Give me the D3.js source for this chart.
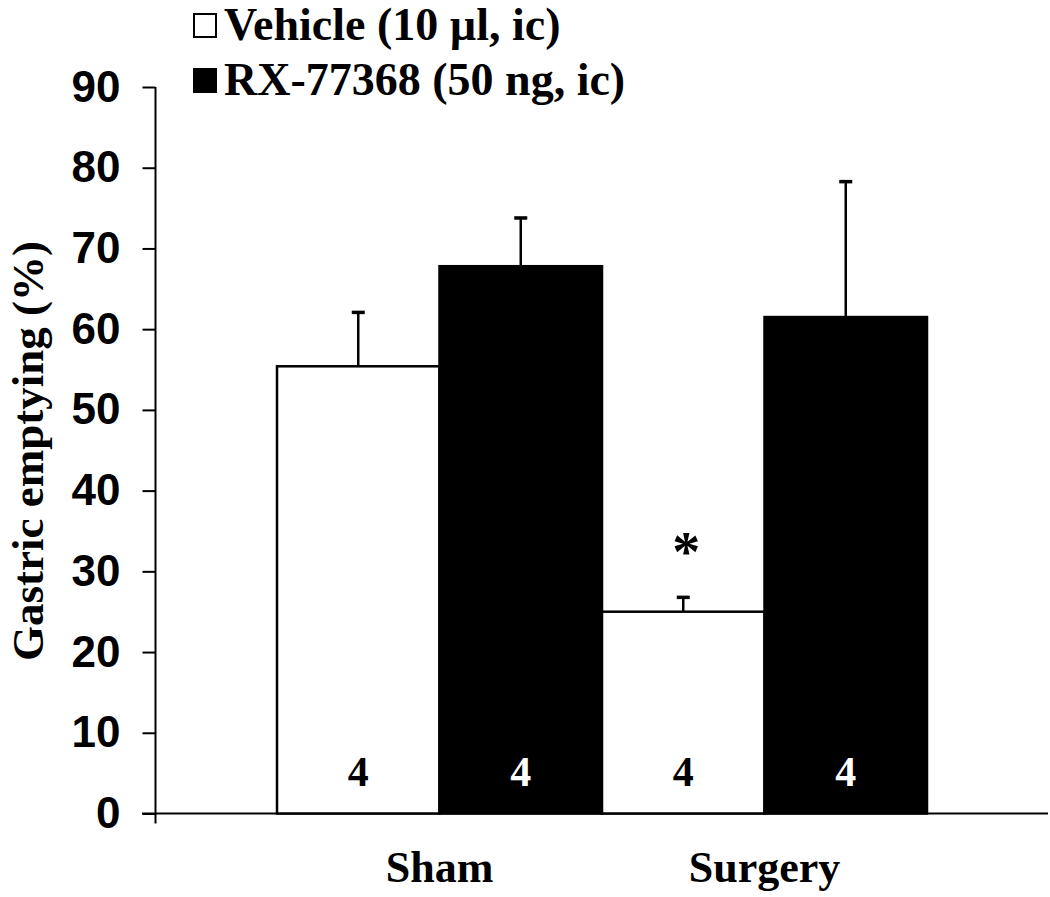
<!DOCTYPE html>
<html>
<head>
<meta charset="utf-8">
<script src="https://cdn.jsdelivr.net/npm/d3@7"></script>
<style>
  html, body { margin: 0; padding: 0; background: #fff; }
  svg { display: block; }
</style>
</head>
<body>
<svg id="chart" width="1050" height="897"></svg>
<script>
// ---- data ----
const groups = ["Sham", "Surgery"];
const seriesNames = ["Vehicle (10 µl, ic)", "RX-77368 (50 ng, ic)"];
const seriesKeys = ["vehicle", "rx"];
const vehicleMeans = [55.4, 25.0];
const vehicleErr = [6.8, 1.9];
const rxMeans = [67.8, 61.5];
const rxErr = [6.1, 16.9];
const nLabels = [["4", "4"], ["4", "4"]];
const significance = ["", "*"];
const yTicks = [0, 10, 20, 30, 40, 50, 60, 70, 80, 90];
const yTitle = "Gastric emptying (%)";

const data = groups.map((g, i) => ({
  group: g,
  values: [
    { key: "vehicle", mean: vehicleMeans[i], err: vehicleErr[i], n: nLabels[i][0], sig: significance[i] },
    { key: "rx", mean: rxMeans[i], err: rxErr[i], n: nLabels[i][1], sig: "" }
  ]
}));

const svg = d3.select("#chart");
const serif = "'Liberation Serif', 'Times New Roman', serif";
const sans = "'Liberation Sans', Arial, sans-serif";

const y = d3.scaleLinear().domain([0, 90]).range([813.5, 87]);
const x0 = d3.scaleBand().domain(groups).range([277, 927]).paddingInner(0).paddingOuter(0);
const x1 = d3.scaleBand().domain(seriesKeys).range([0, x0.bandwidth()]).padding(0);
const fill = d3.scaleOrdinal().domain(seriesKeys).range(["#ffffff", "#000000"]);

const axisX = 155.5;

// x baseline
svg.append("line")
  .attr("x1", 142).attr("x2", 1048)
  .attr("y1", y(0)).attr("y2", y(0))
  .attr("stroke", "#000").attr("stroke-width", 2);

// y axis
const yAxis = svg.append("g")
  .attr("transform", `translate(${axisX},0)`)
  .call(d3.axisLeft(y).tickValues(yTicks).tickSize(13).tickSizeOuter(0).tickPadding(22));
yAxis.select(".domain").remove();
yAxis.selectAll(".tick line").attr("stroke", "#000").attr("stroke-width", 2);
yAxis.selectAll(".tick text")
  .attr("font-family", sans).attr("font-weight", "bold").attr("font-size", 44).attr("fill", "#000");
svg.append("line")
  .attr("x1", axisX).attr("x2", axisX)
  .attr("y1", y(90)).attr("y2", y(0) + 10)
  .attr("stroke", "#000").attr("stroke-width", 2);

// bars
const gGroups = svg.selectAll("g.grp").data(data).join("g")
  .attr("class", "grp")
  .attr("transform", d => `translate(${x0(d.group)},0)`);

gGroups.selectAll("rect").data(d => d.values).join("rect")
  .attr("x", d => x1(d.key))
  .attr("y", d => y(d.mean))
  .attr("width", x1.bandwidth())
  .attr("height", d => y(0) - y(d.mean))
  .attr("fill", d => fill(d.key))
  .attr("stroke", "#000")
  .attr("stroke-width", 2.5);

// error bars (upper only)
gGroups.selectAll("line.err").data(d => d.values).join("line")
  .attr("class", "err")
  .attr("x1", d => x1(d.key) + x1.bandwidth() / 2)
  .attr("x2", d => x1(d.key) + x1.bandwidth() / 2)
  .attr("y1", d => y(d.mean))
  .attr("y2", d => y(d.mean + d.err))
  .attr("stroke", "#000").attr("stroke-width", 2.5);
gGroups.selectAll("line.cap").data(d => d.values).join("line")
  .attr("class", "cap")
  .attr("x1", d => x1(d.key) + x1.bandwidth() / 2 - 6.5)
  .attr("x2", d => x1(d.key) + x1.bandwidth() / 2 + 6.5)
  .attr("y1", d => y(d.mean + d.err) + 1)
  .attr("y2", d => y(d.mean + d.err) + 1)
  .attr("stroke", "#000").attr("stroke-width", 3.5);

// n labels
gGroups.selectAll("text.n").data(d => d.values).join("text")
  .attr("class", "n")
  .attr("x", d => x1(d.key) + x1.bandwidth() / 2)
  .attr("y", 786)
  .attr("text-anchor", "middle")
  .attr("font-family", serif).attr("font-weight", "bold").attr("font-size", 42)
  .attr("fill", d => d.key === "rx" ? "#fff" : "#000")
  .text(d => d.n);

// significance
gGroups.selectAll("text.sig").data(d => d.values.filter(v => v.sig)).join("text")
  .attr("class", "sig")
  .attr("x", d => x1(d.key) + x1.bandwidth() / 2 + 3)
  .attr("y", d => y(d.mean + d.err) - 25)
  .attr("text-anchor", "middle")
  .attr("font-family", serif).attr("font-weight", "bold").attr("font-size", 56)
  .attr("fill", "#000")
  .text(d => d.sig);

// group labels
svg.selectAll("text.grpLabel").data(groups).join("text")
  .attr("class", "grpLabel")
  .attr("x", d => x0(d) + x0.bandwidth() / 2)
  .attr("y", 882)
  .attr("text-anchor", "middle")
  .attr("font-family", serif).attr("font-weight", "bold").attr("font-size", 44)
  .text(d => d);

// y title
svg.append("text")
  .attr("transform", "translate(43,451) rotate(-90)")
  .attr("text-anchor", "middle")
  .attr("font-family", serif).attr("font-weight", "bold").attr("font-size", 45)
  .text(yTitle);

// legend
const legend = svg.append("g");
const legItems = legend.selectAll("g").data(seriesKeys).join("g")
  .attr("transform", (d, i) => `translate(193,${40 + i * 55})`);
legItems.append("rect")
  .attr("x", 1).attr("y", -26).attr("width", 22).attr("height", 23)
  .attr("fill", d => fill(d)).attr("stroke", "#000").attr("stroke-width", 2);
legItems.append("text")
  .attr("x", 31).attr("y", 0)
  .attr("font-family", serif).attr("font-weight", "bold").attr("font-size", 46)
  .text((d, i) => seriesNames[i]);
</script>
</body>
</html>
